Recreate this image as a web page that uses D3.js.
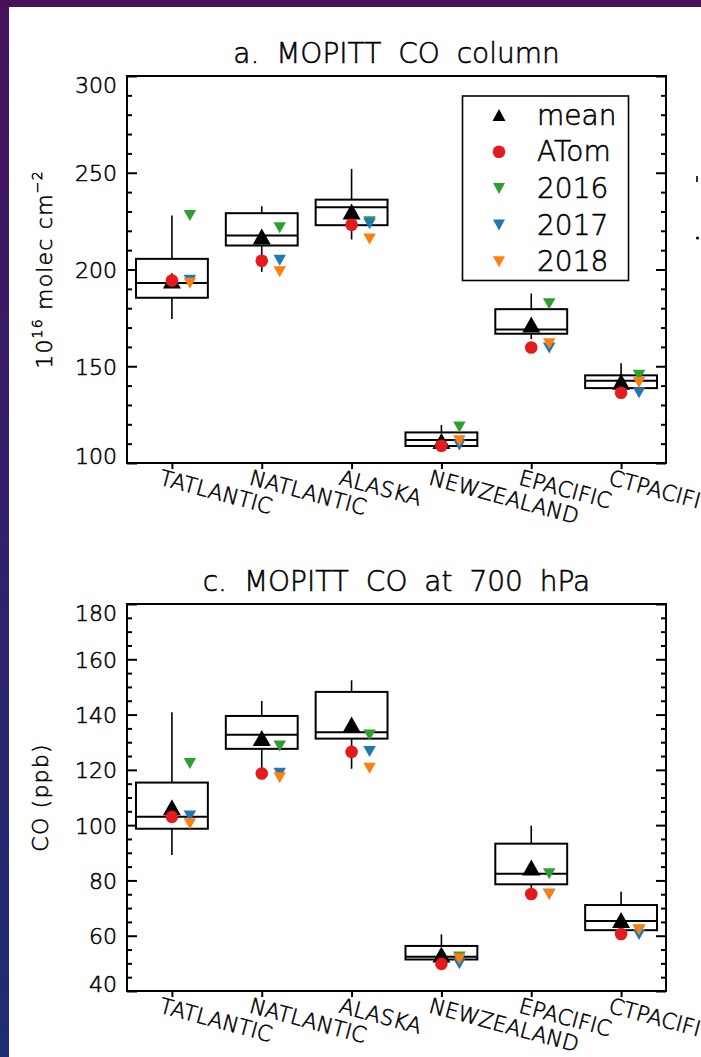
<!DOCTYPE html>
<html>
<head>
<meta charset="utf-8">
<script src="https://cdn.jsdelivr.net/npm/d3@7"></script>
<style>
  html, body { margin: 0; padding: 0; background: #fff; overflow: hidden; }
  svg { display: block; }
  text { font-family: "DejaVu Sans", sans-serif; font-weight: 300; fill: #000;
         stroke: #000; stroke-width: 0.55px; }
</style>
</head>
<body>
<svg id="fig" width="701" height="1057"></svg>
<script>
// ---- regions (x categories) ----
const regions = ["TATLANTIC", "NATLANTIC", "ALASKA", "NEWZEALAND", "EPACIFIC", "CTPACIFIC"];

// ---- a. MOPITT CO column (10^16 molec cm^-2) ----
const colWhiskerLo = [174.4, 198.8, 215.5, 107.0, 164.0, 136.8];
const colBoxLo     = [185.4, 212.4, 222.9, 108.8, 166.8, 138.7];
const colMedian    = [193.0, 217.6, 232.2, 111.9, 169.0, 142.5];
const colBoxHi     = [205.5, 229.1, 236.1, 115.8, 179.5, 145.3];
const colWhiskerHi = [227.9, 232.7, 252.0, 119.6, 187.6, 151.5];
const colMean      = [193.0, 215.7, 228.6, 110.0, 170.2, 140.6];
const colATom      = [194.3, 204.5, 223.1, 108.9, 159.7, 136.3];
const col2016      = [228.9, 222.5, 225.6, 119.6, 183.3, 146.3];
const col2017      = [195.4, 205.7, 224.6, 110.2, 160.4, 137.2];
const col2018      = [193.8, 199.8, 216.7, 112.4, 162.6, 142.5];
const colTicks     = [100, 150, 200, 250, 300];
const colMinorStep = 10;

// ---- c. MOPITT CO at 700 hPa (ppb) ----
const p700WhiskerLo = [89.2, 120.0, 120.4, 50.0, 76.5, 61.0];
const p700BoxLo     = [98.7, 127.6, 131.3, 51.4, 78.6, 62.0];
const p700Median    = [103.0, 132.7, 133.6, 52.4, 82.4, 65.3];
const p700BoxHi     = [115.4, 139.5, 148.2, 56.3, 93.3, 71.1];
const p700WhiskerHi = [140.8, 144.9, 152.4, 60.5, 99.8, 75.9];
const p700Mean      = [105.5, 130.6, 135.4, 52.2, 83.7, 64.7];
const p700ATom      = [103.0, 118.7, 126.5, 49.8, 75.1, 60.6];
const p700_2016     = [123.0, 129.3, 133.3, 53.0, 83.1, 62.6];
const p700_2017     = [104.0, 119.4, 127.3, 50.5, 75.7, 61.1];
const p700_2018     = [101.2, 117.8, 121.2, 52.2, 75.7, 62.8];
const p700Ticks     = [40, 60, 80, 100, 120, 140, 160, 180];
const p700MinorStep = 5;

// ---- legend ----
const legendLabels = ["mean", "ATom", "2016", "2017", "2018"];
const yearColors = ["#2ca02c", "#1f77b4", "#ff7f0e"];
const atomColor = "#e41a1c";

const W = 701, H = 1057;
const svg = d3.select("#fig");

// backdrop frame around the white figure area
const defs = svg.append("defs");
const grad = defs.append("linearGradient").attr("id", "backdrop")
  .attr("x1", 0).attr("y1", 0).attr("x2", 0).attr("y2", 1);
grad.append("stop").attr("offset", "0%").attr("stop-color", "#45125a");
grad.append("stop").attr("offset", "50%").attr("stop-color", "#32206c");
grad.append("stop").attr("offset", "100%").attr("stop-color", "#1c2f70");
svg.append("rect").attr("width", W).attr("height", H).attr("fill", "url(#backdrop)");
svg.append("rect").attr("x", 9).attr("y", 7).attr("width", W - 9).attr("height", H - 7).attr("fill", "#fff");

// symbol paths, centred on the centroid
const triUp = (w, h) => `M0,${-2 * h / 3}L${w / 2},${h / 3}L${-w / 2},${h / 3}Z`;
const triDown = (w, h) => `M0,${2 * h / 3}L${w / 2},${-h / 3}L${-w / 2},${-h / 3}Z`;

const L = 127, R = 666;
const TICK_FS = 22, CAP = 0.729;

function drawPanel(cfg) {
  const g = svg.append("g");
  const x = d3.scaleLinear().domain([0.5, regions.length + 0.5]).range([L, R]);
  const y = d3.scaleLinear().domain([cfg.ticks[0], cfg.ticks[cfg.ticks.length - 1]])
    .range([cfg.bottom, cfg.top]);
  const idx = d3.range(regions.length);

  // title
  g.append("text")
    .attr("x", (L + R) / 2).attr("y", cfg.top - 13)
    .attr("text-anchor", "middle")
    .attr("font-size", 28).attr("word-spacing", 8)
    .text(cfg.title);

  // y axis title
  const yt = g.append("text")
    .attr("transform", `translate(${cfg.ylabX},${(cfg.top + cfg.bottom) / 2}) rotate(-90)`)
    .attr("text-anchor", "middle")
    .attr("font-size", 22).attr("letter-spacing", 1.2);
  cfg.ylabel.forEach(part => {
    const t = yt.append("tspan").text(part.t);
    if (part.sup) t.attr("font-size", 14).attr("baseline-shift", "10");
  });

  // minor + major ticks, left (inward) and right (inward)
  const [y0, y1] = y.domain();
  const minors = d3.range(y0, y1 + 1e-9, cfg.minorStep).filter(v => !cfg.ticks.includes(v));
  const styleTicks = sel => {
    sel.select(".domain").remove();
    sel.attr("font-family", null).attr("font-size", null);
    sel.selectAll(".tick line").attr("stroke", "#000").attr("stroke-width", 2);
  };
  g.append("g").attr("transform", `translate(${L},0)`)
    .call(d3.axisLeft(y).tickValues(minors).tickSize(-5).tickFormat(""))
    .call(styleTicks);
  g.append("g").attr("transform", `translate(${R},0)`)
    .call(d3.axisRight(y).tickValues(minors).tickSize(-5).tickFormat(""))
    .call(styleTicks);
  g.append("g").attr("transform", `translate(${R},0)`)
    .call(d3.axisRight(y).tickValues(cfg.ticks).tickSize(-10).tickFormat(""))
    .call(styleTicks);
  const cap = CAP * TICK_FS;
  const gl = g.append("g").attr("transform", `translate(${L},0)`)
    .call(d3.axisLeft(y).tickValues(cfg.ticks).tickSizeInner(-10).tickSizeOuter(0).tickPadding(10))
    .call(styleTicks);
  gl.selectAll(".tick text")
    .attr("fill", "#000").attr("font-size", TICK_FS).attr("dy", null)
    .attr("y", d => Math.max(cfg.top + cap, Math.min(cfg.bottom, y(d) + cap / 2)) - y(d));

  // category axis with slanted labels
  const gb = g.append("g").attr("transform", `translate(0,${cfg.bottom})`)
    .call(d3.axisBottom(x).tickValues(idx.map(i => i + 1)).tickSizeInner(6).tickSizeOuter(0)
      .tickFormat(d => regions[d - 1]))
    .call(styleTicks);
  gb.selectAll(".tick text")
    .attr("fill", "#000").attr("font-size", 21.5)
    .attr("x", 0).attr("y", 0).attr("dy", "0.73em")
    .attr("text-anchor", "start")
    .attr("transform", "translate(-10,6) rotate(15)");

  // plot frame
  g.append("rect").attr("x", L).attr("y", cfg.top)
    .attr("width", R - L).attr("height", cfg.bottom - cfg.top)
    .attr("fill", "none").attr("stroke", "#000").attr("stroke-width", 2);

  // whiskers
  const half = 0.4;
  g.selectAll(".whi").data(idx).join("line")
    .attr("x1", i => x(i + 1)).attr("x2", i => x(i + 1))
    .attr("y1", i => y(cfg.boxHi[i])).attr("y2", i => y(cfg.whiskerHi[i]))
    .attr("stroke", "#000").attr("stroke-width", 1.6);
  g.selectAll(".wlo").data(idx).join("line")
    .attr("x1", i => x(i + 1)).attr("x2", i => x(i + 1))
    .attr("y1", i => y(cfg.boxLo[i])).attr("y2", i => y(cfg.whiskerLo[i]))
    .attr("stroke", "#000").attr("stroke-width", 1.6);
  // boxes
  g.selectAll(".box").data(idx).join("rect")
    .attr("x", i => x(i + 1 - half)).attr("width", i => x(i + 1 + half) - x(i + 1 - half))
    .attr("y", i => y(cfg.boxHi[i])).attr("height", i => y(cfg.boxLo[i]) - y(cfg.boxHi[i]))
    .attr("fill", "none").attr("stroke", "#000").attr("stroke-width", 2);
  g.selectAll(".med").data(idx).join("line")
    .attr("x1", i => x(i + 1 - half)).attr("x2", i => x(i + 1 + half))
    .attr("y1", i => y(cfg.median[i])).attr("y2", i => y(cfg.median[i]))
    .attr("stroke", "#000").attr("stroke-width", 2);

  // mean, ATom, yearly values
  g.selectAll(".mean").data(idx).join("path")
    .attr("d", triUp(18, 16))
    .attr("transform", i => `translate(${x(i + 1)},${y(cfg.mean[i])})`)
    .attr("fill", "#000");
  g.selectAll(".atom").data(idx).join("circle")
    .attr("cx", i => x(i + 1)).attr("cy", i => y(cfg.atom[i])).attr("r", 6.3)
    .attr("fill", atomColor);
  cfg.years.forEach((vals, k) => {
    g.selectAll(".yr" + k).data(idx).join("path")
      .attr("d", triDown(12.5, 11))
      .attr("transform", i => `translate(${x(i + 1.2)},${y(vals[i])})`)
      .attr("fill", yearColors[k]);
  });
  return { x, y, g };
}

drawPanel({
  title: "a. MOPITT CO column", top: 76, bottom: 463, ticks: colTicks, minorStep: colMinorStep,
  ylabX: 52,
  ylabel: [{ t: "10" }, { t: "16", sup: true }, { t: " molec cm" }, { t: "\u22122", sup: true }],
  whiskerLo: colWhiskerLo, boxLo: colBoxLo, median: colMedian, boxHi: colBoxHi, whiskerHi: colWhiskerHi,
  mean: colMean, atom: colATom, years: [col2016, col2017, col2018]
});

drawPanel({
  title: "c. MOPITT CO at 700 hPa", top: 604, bottom: 991, ticks: p700Ticks, minorStep: p700MinorStep,
  ylabX: 48,
  ylabel: [{ t: "CO (ppb)" }],
  whiskerLo: p700WhiskerLo, boxLo: p700BoxLo, median: p700Median, boxHi: p700BoxHi, whiskerHi: p700WhiskerHi,
  mean: p700Mean, atom: p700ATom, years: [p700_2016, p700_2017, p700_2018]
});

// legend (panel a)
const lg = svg.append("g");
lg.append("rect").attr("x", 462.5).attr("y", 96).attr("width", 166).attr("height", 184.5)
  .attr("fill", "#fff").attr("stroke", "#000").attr("stroke-width", 1.6);
const rowY = d3.scaleLinear().domain([0, legendLabels.length - 1]).range([115, 261.7]);
const symX = 499, textX = 537;
legendLabels.forEach((lab, k) => {
  const cy = rowY(k);
  if (k === 0) {
    lg.append("path").attr("d", triUp(13, 12)).attr("transform", `translate(${symX},${cy + 2})`).attr("fill", "#000");
  } else if (k === 1) {
    lg.append("circle").attr("cx", symX).attr("cy", cy).attr("r", 6.3).attr("fill", atomColor);
  } else {
    lg.append("path").attr("d", triDown(12, 11)).attr("transform", `translate(${symX},${cy - 1.8})`)
      .attr("fill", yearColors[k - 2]);
  }
  lg.append("text").attr("x", textX).attr("y", cy + 9.5).attr("font-size", 28).text(lab);
});

// edge of the neighbouring panel's axis title
svg.append("line").attr("x1", 697).attr("y1", 176).attr("x2", 697).attr("y2", 182)
  .attr("stroke", "#000").attr("stroke-width", 1.6);
svg.append("circle").attr("cx", 697.5).attr("cy", 238).attr("r", 1.6).attr("fill", "#000");
</script>
</body>
</html>
